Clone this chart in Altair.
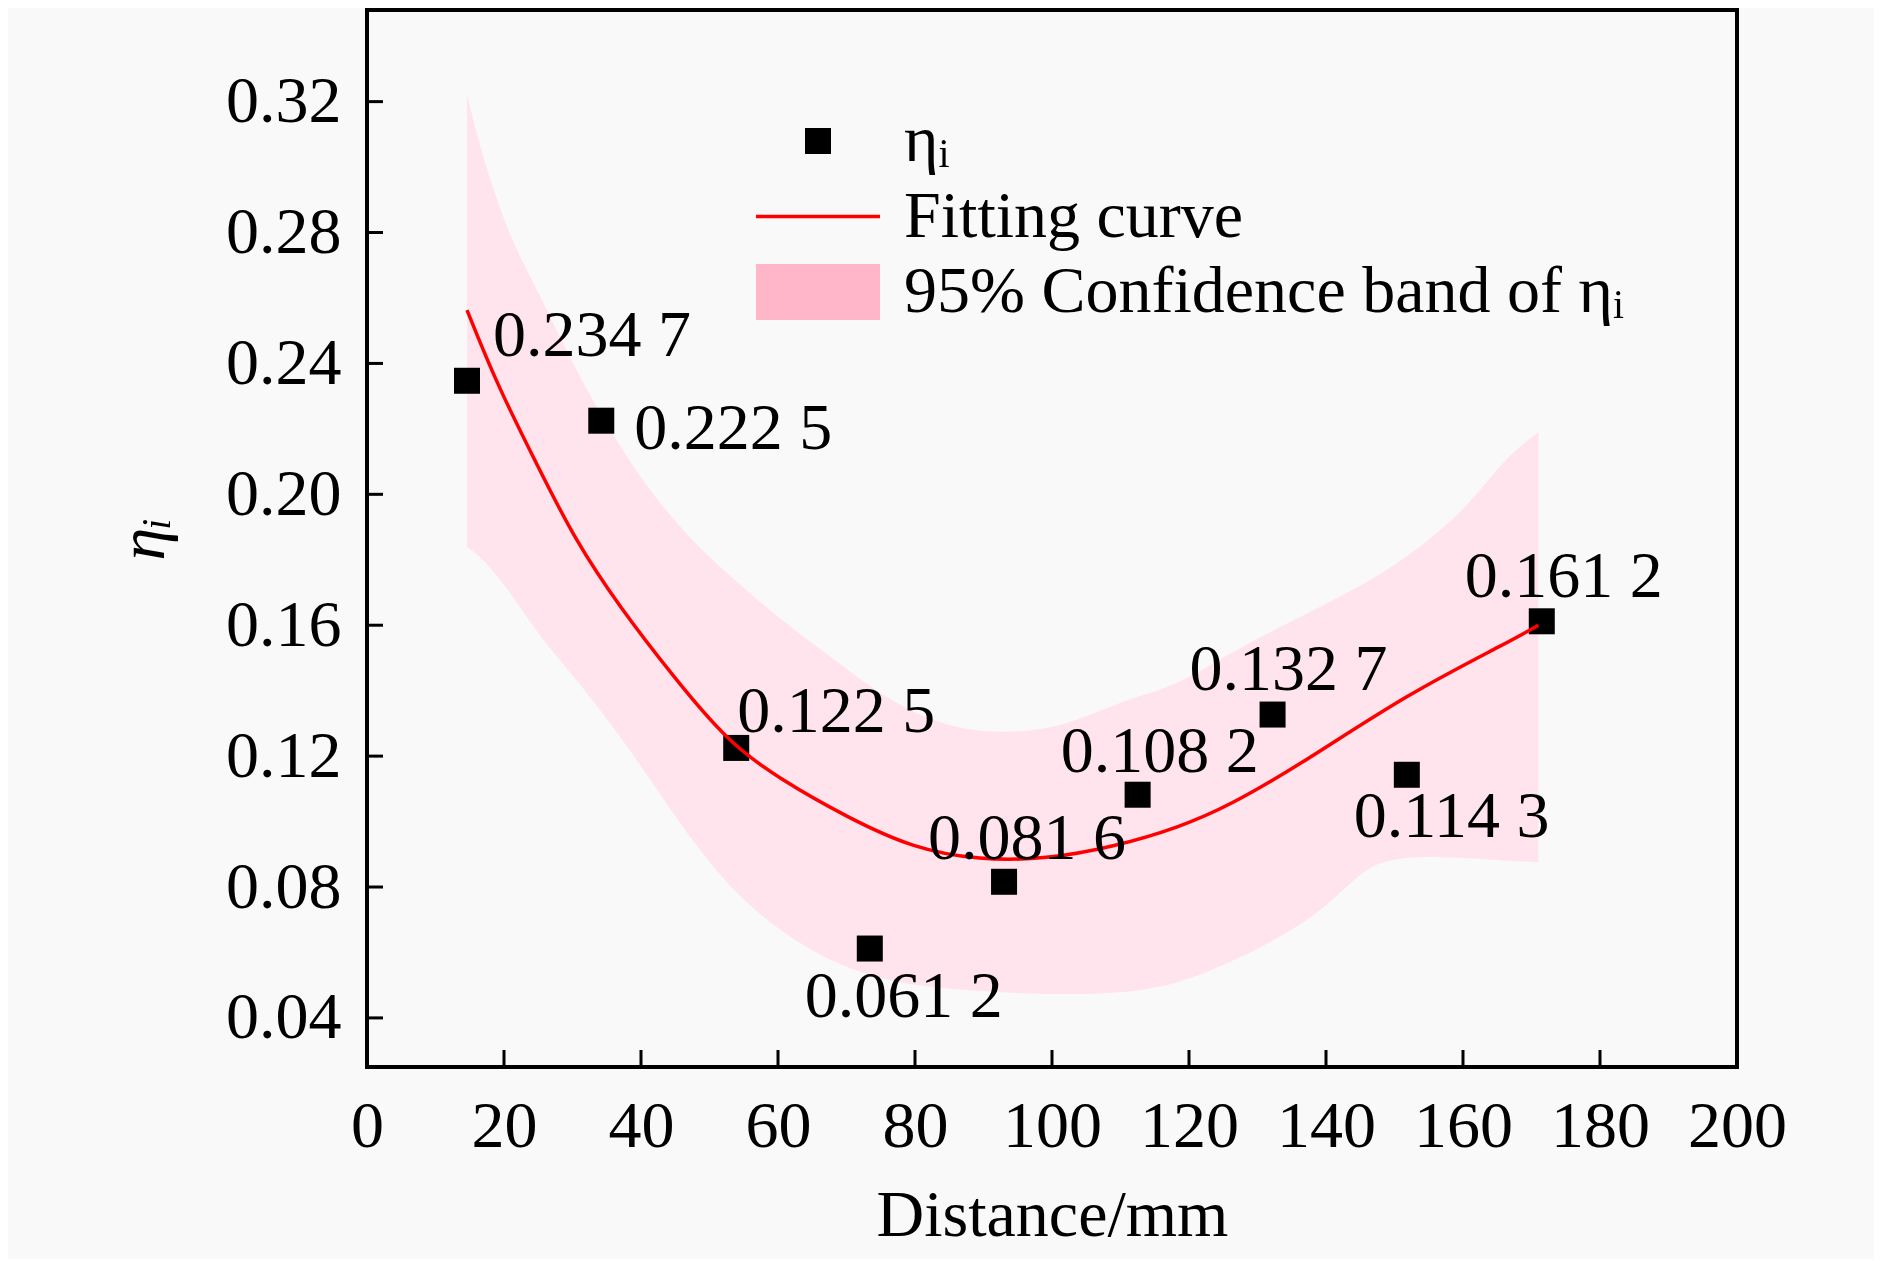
import altair as alt
import pandas as pd

# ---------------- data ----------------
distance = [14.6, 34.2, 53.9, 73.4, 93.0, 112.5, 132.2, 151.8, 171.5]
eta = [0.2347, 0.2225, 0.1225, 0.0612, 0.0816, 0.1082, 0.1327, 0.1143, 0.1612]
point_labels = ["0.234 7", "0.222 5", "0.122 5", "0.061 2", "0.081 6",
                "0.108 2", "0.132 7", "0.114 3", "0.161 2"]

curve_x = [14.6, 19.1, 24.7, 30.3, 37.0, 44.8, 52.6, 60.2, 70.0, 79.7,
           89.4, 99.2, 108.9, 118.7, 126.0, 136.3, 152.1, 166.8, 171.0]
curve_y = [0.2563, 0.2330, 0.2096, 0.1862, 0.1652, 0.1441, 0.1245, 0.1130,
           0.1014, 0.0918, 0.0882, 0.0885, 0.0922, 0.0983,
           0.1050, 0.1175, 0.1393, 0.1550, 0.1600]

band_x = [14.6, 17, 21, 25, 30, 38, 46, 54, 62, 68, 76, 86, 100, 110, 118,
          127, 139, 145, 150, 160, 166, 171]
band_upper = [0.322, 0.302, 0.2774, 0.2622, 0.2395, 0.210, 0.1885, 0.173,
              0.159, 0.150, 0.137, 0.127, 0.127, 0.137, 0.141, 0.153, 0.1653,
              0.172, 0.178, 0.194, 0.211, 0.219]
band_lower = [0.184, 0.1803, 0.170, 0.157, 0.145, 0.1235, 0.098, 0.077, 0.064,
              0.057, 0.051, 0.0485, 0.047, 0.0475, 0.050, 0.0576, 0.0711,
              0.085, 0.0895, 0.089, 0.088, 0.0876]

x_ticks = [0, 20, 40, 60, 80, 100, 120, 140, 160, 180, 200]
y_ticks = [0.04, 0.08, 0.12, 0.16, 0.20, 0.24, 0.28, 0.32]

legend_labels = ["ηᵢ", "Fitting curve", "95% Confidence band of ηᵢ"]

# label offsets (pixels) relative to each point
label_dx = [26, 33, 1, -65, -76, -77, -83, -53, -77]
label_dy = [-45, 8, -36, 48, -43, -43, -45, 42, -44]

# ---------------- chart ----------------
W, H = 1370, 1057
FONT = "Liberation Serif"
FS = 66

xs = alt.Scale(domain=[0, 200], nice=False, zero=False)
ys = alt.Scale(domain=[0.025, 0.348], nice=False, zero=False)

axis_common = dict(domain=False, ticks=False, tickSize=0, grid=False,
                   labelFont=FONT, labelFontSize=FS, labelColor="black",
                   titleFont=FONT, titleFontSize=FS, titleColor="black",
                   titleFontWeight="normal", labelOverlap=False, labelFlush=False)
x_axis = alt.Axis(values=x_ticks, format="d", title="Distance/mm",
                  labelPadding=27, titlePadding=24, **axis_common)
y_axis = alt.Axis(values=y_ticks, format=".2f", title="ηᵢ",
                  titleFontStyle="italic",
                  labelPadding=26, titlePadding=48, **axis_common)


def X(field):
    return alt.X(field, scale=xs, axis=x_axis, title="Distance/mm")


def Y(field):
    return alt.Y(field, scale=ys, axis=y_axis, title="ηᵢ")


band_df = pd.DataFrame({"x": band_x, "lo": band_lower, "hi": band_upper})
band = alt.Chart(band_df).mark_area(color="#FFE3ED", interpolate="basis").encode(
    x=X("x:Q"), y=Y("lo:Q"), y2="hi:Q",
)

pts_df = pd.DataFrame({"x": distance, "y": eta, "t": point_labels})
points = alt.Chart(pts_df).mark_square(size=676, color="black", opacity=1).encode(
    x=X("x:Q"), y=Y("y:Q"),
)

curve_df = pd.DataFrame({"x": curve_x, "y": curve_y})
curve = alt.Chart(curve_df).mark_line(color="#FF0000", strokeWidth=3.5,
                                      interpolate="basis").encode(
    x=X("x:Q"), y=Y("y:Q"),
)

label_layers = []
for i in range(len(distance)):
    label_layers.append(
        alt.Chart(pts_df.iloc[[i]]).mark_text(
            align="left", baseline="middle", dx=label_dx[i], dy=label_dy[i],
            font=FONT, fontSize=FS, color="black"
        ).encode(x=X("x:Q"), y=Y("y:Q"), text="t:N")
    )

ytick = alt.Chart(pd.DataFrame({"v": y_ticks})).mark_rule(
    color="black", strokeWidth=3).encode(
    y=Y("v:Q"), x=alt.value(0), x2=alt.value(16),
)
xtick = alt.Chart(pd.DataFrame({"v": x_ticks})).mark_rule(
    color="black", strokeWidth=3).encode(
    x=X("v:Q"), y=alt.value(H), y2=alt.value(H - 17),
)

# legend (real Vega legend, custom symbol shapes)
sq_path = "M-0.371,-0.371H0.371V0.371H-0.371Z"
line_path = "M-1.771,-0.05H1.771V0.05H-1.771Z"
rect_path = "M-1.771,-0.8H1.771V0.8H-1.771Z"
leg_opts = dict(title=None, orient="none", legendX=416, legendY=96)
legend_df = pd.DataFrame({"s": legend_labels})
legend_layer = alt.Chart(legend_df).mark_point(filled=True).encode(
    color=alt.Color("s:N",
                    scale=alt.Scale(domain=legend_labels,
                                    range=["#000000", "#FF0000", "#FFB6C9"]),
                    legend=alt.Legend(**leg_opts)),
    shape=alt.Shape("s:N",
                    scale=alt.Scale(domain=legend_labels,
                                    range=[sq_path, line_path, rect_path]),
                    legend=alt.Legend(**leg_opts)),
).transform_filter("false")

chart = alt.layer(band, points, curve, *label_layers, ytick, xtick, legend_layer).properties(
    width=W, height=H,
    background="#F9F9F9",
    autosize=alt.AutoSizeParams(type="none"),
    padding={"left": 359, "top": 2, "right": 137, "bottom": 192},
).configure_view(
    stroke="black", strokeWidth=4
).configure_legend(
    symbolSize=4900, symbolStrokeWidth=0, symbolOpacity=1,
    labelFont=FONT, labelFontSize=FS, labelColor="black",
    labelOffset=51, rowPadding=7.5, padding=0, labelLimit=2000,
)

chart.save("out.html", embed_options={"renderer": "svg", "actions": False})
